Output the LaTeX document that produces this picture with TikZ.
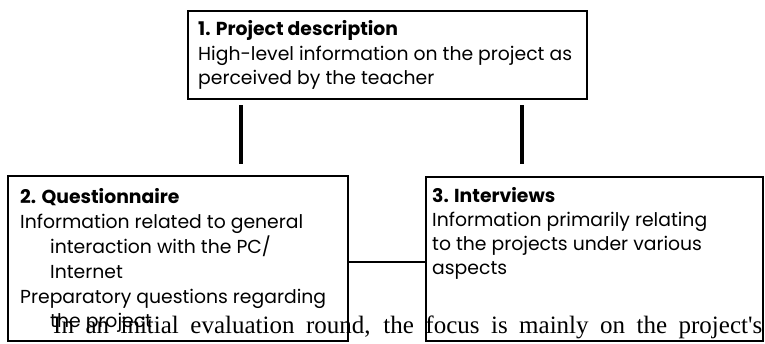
\documentclass[tikz,border=0pt]{standalone}
\usepackage{fontspec}
\setmainfont{Liberation Serif}
\newfontfamily\boxfont{Poppins}
\begin{document}
\begin{tikzpicture}[x=1pt,y=-1pt,
  boxline/.style={draw,line width=2pt,anchor=north west,inner sep=0pt},
  txt/.style={anchor=base west,inner sep=0pt,font=\boxfont\fontsize{18.8}{22}\selectfont},
  ttl/.style={anchor=base west,inner sep=0pt,font=\boxfont\bfseries\fontsize{18.8}{22}\selectfont},
  thicklink/.style={line width=4pt},
  thinlink/.style={line width=1.5pt}]
\useasboundingbox (0,0) rectangle (765,343);
% boxes
\node[boxline,minimum width=399pt,minimum height=88pt] (b1) at (187,10) {};
\node[boxline,minimum width=340pt,minimum height=165pt] (b2) at (7,175) {};
\node[boxline,minimum width=337pt,minimum height=164pt] (b3) at (425,176) {};
% box 1 text
\node[ttl] (t1a) at (198,35) {1. Project description};
\node[txt] (t1b) at (198,60) {High-level information on the project as};
\node[txt] (t1c) at (198,84) {perceived by the teacher};
% box 2 text
\node[ttl] (t2a) at (20,203) {2. Questionnaire};
\node[txt] (t2b) at (20,228) {Information related to general};
\node[txt] (t2c) at (50,253) {interaction with the PC/};
\node[txt] (t2d) at (50,278) {Internet};
\node[txt] (t2e) at (20,303) {Preparatory questions regarding};
\node[txt] (t2f) at (50,327) {the project};
% box 3 text
\node[ttl] (t3a) at (432,202) {3. Interviews};
\node[txt] (t3b) at (432,226) {Information primarily relating};
\node[txt] (t3c) at (432,250) {to the projects under various};
\node[txt] (t3d) at (432,274) {aspects};
% connectors
\coordinate (c1a) at (241,105);
\coordinate (c1b) at (241,164);
\coordinate (c2a) at (522,105);
\coordinate (c2b) at (522,164);
\coordinate (hy) at (0,262);
\draw[thicklink] (c1a) -- (c1b);
\draw[thicklink] (c2a) -- (c2b);
\draw[thinlink] (b2.east |- hy) -- (b3.west |- hy);
% overlapping body text
\node[anchor=base west,inner sep=0pt,font=\fontsize{25}{29}\selectfont] (para) at (53,333)
  {\makebox[709pt][s]{In an initial evaluation round, the focus is mainly on the project\textquotesingle s}};
\end{tikzpicture}
\end{document}
